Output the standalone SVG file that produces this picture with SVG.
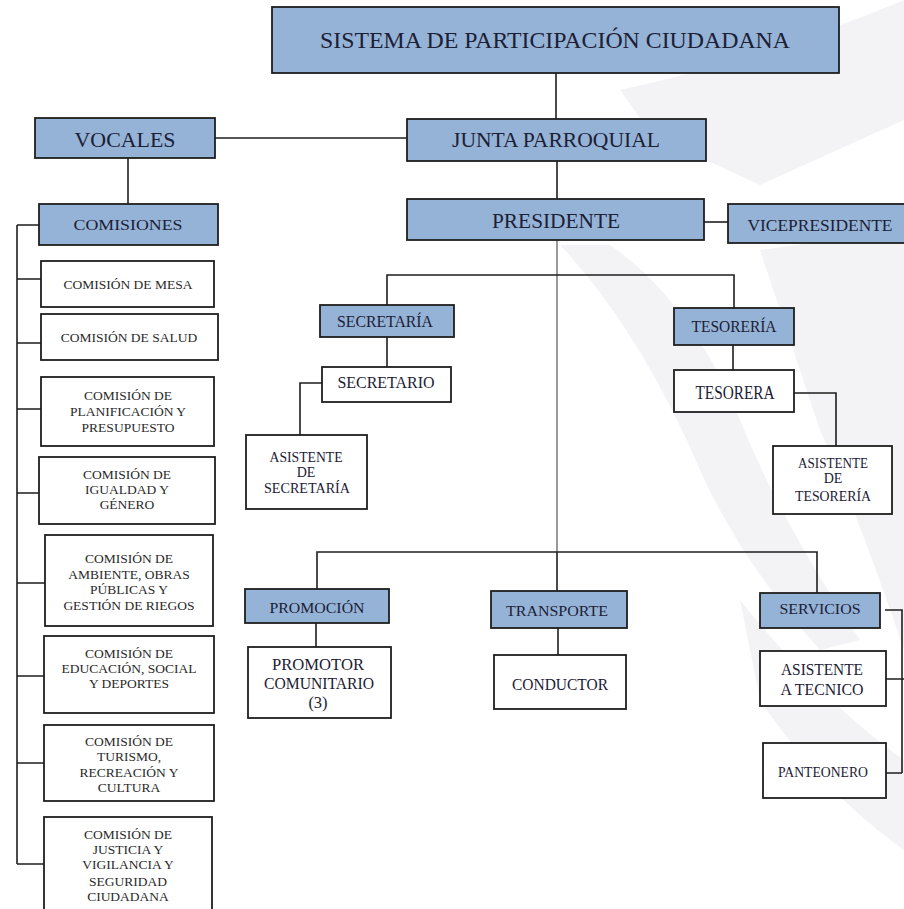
<svg xmlns="http://www.w3.org/2000/svg" width="904" height="909" viewBox="0 0 904 909">
<style>
.bg{fill:#f3f3f5}
.blue{fill:#95b3d7;stroke:#1e1e1e;stroke-width:1.8}
.white{fill:#ffffff;stroke:#1e1e1e;stroke-width:1.8}
.ln{stroke:#1e1e1e;stroke-width:1.6;fill:none}
.gl{stroke:#808080;stroke-width:1.6;fill:none}
text{font-family:"Liberation Serif","Times New Roman",serif;text-anchor:middle;fill:#1c2035}
.c{font-size:13.5px;fill:#2a2a2a}
</style>
<rect x="0" y="0" width="904" height="909" fill="#ffffff"/>
<g id="watermark">
<path class="bg" d="M620 90 Q760 60 904 0 L904 120 L760 185 L706 160 L706 118 L640 118 Z"/>
<path class="bg" d="M560 245 Q640 330 700 470 Q740 560 820 650 L860 640 Q780 520 740 420 Q690 300 610 245 Z"/>
<path class="bg" d="M760 250 L904 230 L904 650 Q860 520 820 430 Q790 340 760 250 Z"/>
<path class="bg" d="M740 600 Q820 700 904 760 L904 850 Q820 790 760 700 Z"/>
</g>
<g id="connectors">
<path class="ln" d="M556 73 V119"/>
<path class="ln" d="M215 138 H407"/>
<path class="ln" d="M557 161 V199"/>
<path class="ln" d="M704 222 H728"/>
<path class="ln" d="M128 158 V204"/>
<path class="ln" d="M17 225 V864"/>
<path class="ln" d="M17 225 H39 M17 279 H41 M17 343 H41 M17 409 H41 M17 493 H39 M17 583 H45 M17 676 H44 M17 763 H44 M17 864 H44"/>
<path class="gl" d="M557 240 V552"/>
<path class="ln" d="M387 305 V275 H734 V308"/>
<path class="ln" d="M387 337 V367"/>
<path class="ln" d="M322 383 H300 V435"/>
<path class="ln" d="M733 345 V370"/>
<path class="ln" d="M794 393 H836 V446"/>
<path class="ln" d="M317 589 V552 H817 V593"/>
<path class="ln" d="M557 552 V591"/>
<path class="ln" d="M316 623 V647"/>
<path class="ln" d="M558 628 V655"/>
<path class="ln" d="M885 610 H902 V773 M886 679 H904 M886 773 H902"/>
</g>
<g id="n-sistema">
<rect class="blue" x="272" y="7" width="567" height="66"/>
<text x="555" y="48" font-size="24" textLength="470" lengthAdjust="spacingAndGlyphs">SISTEMA DE PARTICIPACIÓN CIUDADANA</text>
</g>
<g id="n-vocales">
<rect class="blue" x="35" y="118" width="180" height="40"/>
<text x="125" y="147" font-size="21" textLength="101" lengthAdjust="spacingAndGlyphs">VOCALES</text>
</g>
<g id="n-junta">
<rect class="blue" x="407" y="119" width="299" height="42"/>
<text x="556" y="147" font-size="21" textLength="208" lengthAdjust="spacingAndGlyphs">JUNTA PARROQUIAL</text>
</g>
<g id="n-presidente">
<rect class="blue" x="407" y="199" width="297" height="41"/>
<text x="556" y="228" font-size="20" textLength="128" lengthAdjust="spacingAndGlyphs">PRESIDENTE</text>
</g>
<g id="n-vicepresidente">
<rect class="blue" x="728" y="204" width="180" height="39"/>
<text x="820" y="231" font-size="16.5" textLength="145" lengthAdjust="spacingAndGlyphs">VICEPRESIDENTE</text>
</g>
<g id="n-comisiones">
<rect class="blue" x="39" y="204" width="179" height="41"/>
<text x="128" y="230" font-size="14.5" textLength="109" lengthAdjust="spacingAndGlyphs">COMISIONES</text>
</g>
<g id="n-mesa">
<rect class="white" x="41" y="261" width="173" height="46"/>
<text class="c" x="128" y="289">COMISIÓN DE MESA</text>
</g>
<g id="n-salud">
<rect class="white" x="41" y="314" width="177" height="46"/>
<text class="c" x="129" y="342">COMISIÓN DE SALUD</text>
</g>
<g id="n-planificacion">
<rect class="white" x="41" y="377" width="173" height="69"/>
<text class="c" x="128" y="400">COMISIÓN DE</text>
<text class="c" x="128" y="416">PLANIFICACIÓN Y</text>
<text class="c" x="128" y="432">PRESUPUESTO</text>
</g>
<g id="n-igualdad">
<rect class="white" x="39" y="457" width="176" height="67"/>
<text class="c" x="127" y="479">COMISIÓN DE</text>
<text class="c" x="127" y="494">IGUALDAD Y</text>
<text class="c" x="127" y="509">GÉNERO</text>
</g>
<g id="n-ambiente">
<rect class="white" x="45" y="535" width="168" height="91"/>
<text class="c" x="129" y="563">COMISIÓN DE</text>
<text class="c" x="129" y="579">AMBIENTE, OBRAS</text>
<text class="c" x="129" y="594">PÚBLICAS Y</text>
<text class="c" x="129" y="610">GESTIÓN DE RIEGOS</text>
</g>
<g id="n-educacion">
<rect class="white" x="44" y="636" width="170" height="77"/>
<text class="c" x="129" y="658">COMISIÓN DE</text>
<text class="c" x="129" y="673">EDUCACIÓN, SOCIAL</text>
<text class="c" x="129" y="688">Y DEPORTES</text>
</g>
<g id="n-turismo">
<rect class="white" x="44" y="725" width="170" height="76"/>
<text class="c" x="129" y="746">COMISIÓN DE</text>
<text class="c" x="129" y="761">TURISMO,</text>
<text class="c" x="129" y="777">RECREACIÓN Y</text>
<text class="c" x="129" y="792">CULTURA</text>
</g>
<g id="n-justicia">
<rect class="white" x="44" y="817" width="168" height="100"/>
<text class="c" x="128" y="839">COMISIÓN DE</text>
<text class="c" x="128" y="854">JUSTICIA Y</text>
<text class="c" x="128" y="869">VIGILANCIA Y</text>
<text class="c" x="128" y="886">SEGURIDAD</text>
<text class="c" x="128" y="901">CIUDADANA</text>
</g>
<g id="n-secretaria">
<rect class="blue" x="320" y="305" width="134" height="32"/>
<text x="385" y="327" font-size="16.5" textLength="96" lengthAdjust="spacingAndGlyphs">SECRETARÍA</text>
</g>
<g id="n-secretario">
<rect class="white" x="322" y="367" width="129" height="35"/>
<text x="386" y="388" font-size="17" textLength="97" lengthAdjust="spacingAndGlyphs">SECRETARIO</text>
</g>
<g id="n-asist-secretaria">
<rect class="white" x="246" y="435" width="121" height="74"/>
<text x="306" y="462" font-size="14" textLength="73" lengthAdjust="spacingAndGlyphs">ASISTENTE</text>
<text x="306" y="477" font-size="14">DE</text>
<text x="307" y="493" font-size="14" textLength="86" lengthAdjust="spacingAndGlyphs">SECRETARÍA</text>
</g>
<g id="n-tesoreria">
<rect class="blue" x="674" y="308" width="120" height="37"/>
<text x="734" y="332" font-size="17" textLength="85" lengthAdjust="spacingAndGlyphs">TESORERÍA</text>
</g>
<g id="n-tesorera">
<rect class="white" x="674" y="370" width="120" height="42"/>
<text x="735" y="399" font-size="18" textLength="79" lengthAdjust="spacingAndGlyphs">TESORERA</text>
</g>
<g id="n-asist-tesoreria">
<rect class="white" x="773" y="446" width="119" height="68"/>
<text x="833" y="468" font-size="14" textLength="70" lengthAdjust="spacingAndGlyphs">ASISTENTE</text>
<text x="833" y="483" font-size="14">DE</text>
<text x="833" y="501" font-size="14" textLength="76" lengthAdjust="spacingAndGlyphs">TESORERÍA</text>
</g>
<g id="n-promocion">
<rect class="blue" x="245" y="589" width="144" height="34"/>
<text x="317" y="613" font-size="15" textLength="95" lengthAdjust="spacingAndGlyphs">PROMOCIÓN</text>
</g>
<g id="n-promotor">
<rect class="white" x="248" y="647" width="143" height="71"/>
<text x="318" y="670" font-size="16.5" textLength="92" lengthAdjust="spacingAndGlyphs">PROMOTOR</text>
<text x="319" y="689" font-size="16.5" textLength="110" lengthAdjust="spacingAndGlyphs">COMUNITARIO</text>
<text x="318" y="708" font-size="16.5">(3)</text>
</g>
<g id="n-transporte">
<rect class="blue" x="491" y="591" width="136" height="37"/>
<text x="557" y="616" font-size="15" textLength="102" lengthAdjust="spacingAndGlyphs">TRANSPORTE</text>
</g>
<g id="n-conductor">
<rect class="white" x="494" y="655" width="132" height="54"/>
<text x="560" y="690" font-size="17" textLength="96" lengthAdjust="spacingAndGlyphs">CONDUCTOR</text>
</g>
<g id="n-servicios">
<rect class="blue" x="760" y="593" width="120" height="35"/>
<text x="820" y="614" font-size="15" textLength="81" lengthAdjust="spacingAndGlyphs">SERVICIOS</text>
</g>
<g id="n-asist-tecnico">
<rect class="white" x="760" y="651" width="126" height="55"/>
<text x="822" y="675" font-size="17" textLength="82" lengthAdjust="spacingAndGlyphs">ASISTENTE</text>
<text x="822" y="695" font-size="17" textLength="83" lengthAdjust="spacingAndGlyphs">A TECNICO</text>
</g>
<g id="n-panteonero">
<rect class="white" x="763" y="743" width="123" height="55"/>
<text x="823" y="777" font-size="14.5" textLength="90" lengthAdjust="spacingAndGlyphs">PANTEONERO</text>
</g>
</svg>
